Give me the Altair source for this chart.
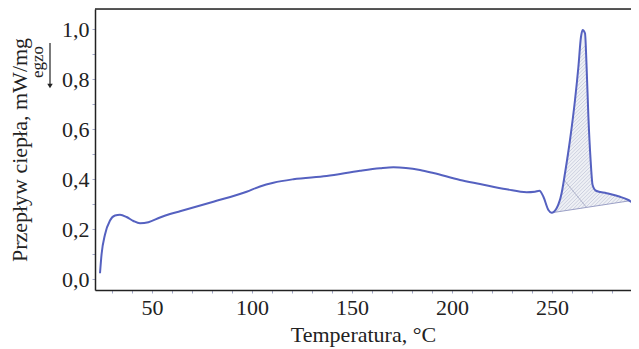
import altair as alt
import numpy as np
import pandas as pd

# DSC curve
temp = [24.0, 24.8, 26.5, 29.0, 31.5, 34.0, 37.3, 40.7, 44.0, 48.2, 54.0, 59.0, 64.0, 80.7,
        97.3, 104.0, 110.7, 120.7, 137.3, 154.0, 164.0, 170.7, 184.0, 190.7, 204.0, 214.0,
        227.3, 237.3, 241.5, 243.7, 245.7, 248.2, 249.8, 252.3, 254.8, 256.5, 259.0, 261.5,
        263.2, 264.5, 265.3, 266.5, 267.3, 268.2, 269.3, 270.3, 272.0, 277.3, 284.0, 288.2,
        291.5, 293.5]
heat = [0.023, 0.100, 0.178, 0.234, 0.254, 0.257, 0.248, 0.232, 0.223, 0.227, 0.246, 0.260,
        0.271, 0.309, 0.349, 0.370, 0.385, 0.399, 0.412, 0.433, 0.443, 0.447, 0.436, 0.424,
        0.396, 0.380, 0.359, 0.347, 0.349, 0.353, 0.329, 0.276, 0.265, 0.283, 0.343, 0.423,
        0.556, 0.716, 0.849, 0.969, 0.996, 0.983, 0.849, 0.649, 0.476, 0.376, 0.353, 0.343,
        0.329, 0.316, 0.300, 0.296]

# integration baseline of the exothermic peak
base_t = [249.8, 289.0]
base_y = [0.265, 0.313]
# divider line inside the peak area
div_t = [256.0, 267.3]
div_y = [0.396, 0.286]

x_ticks = list(range(30, 290, 10))
y_ticks = [round(v * 0.1, 1) for v in range(0, 11)]

X_DOM = [21.5, 289.5]
Y_DOM = [-0.044, 1.08]
W, H = 536, 281

df = pd.DataFrame({"t": temp, "y": heat})

# shaded area between curve and baseline
t_arr = np.array(temp)
h_arr = np.array(heat)
mask = (t_arr >= base_t[0]) & (t_arr <= base_t[1])
area_t = np.concatenate([[base_t[0]], t_arr[mask], [base_t[1]]])
area_y = np.interp(area_t, t_arr, h_arr)
area_y[-1] = base_y[1]
area_b = np.interp(area_t, base_t, base_y)
area_df = pd.DataFrame({"t": area_t, "y": area_y, "b": area_b})

# hatch lines (45 degrees on screen) clipped to the area
px_per_t = W / (X_DOM[1] - X_DOM[0])
px_per_y = H / (Y_DOM[1] - Y_DOM[0])
fine_t = np.linspace(base_t[0], base_t[1], 4000)
fine_top = np.interp(fine_t, t_arr, h_arr)
fine_bot = np.interp(fine_t, base_t, base_y)
segs = []
for c in np.arange(300, 1200, 3.6):
    yl = (fine_t * px_per_t - c) / px_per_y
    inside = (yl >= fine_bot) & (yl <= fine_top)
    idx = np.where(inside)[0]
    if len(idx) == 0:
        continue
    runs = np.split(idx, np.where(np.diff(idx) != 1)[0] + 1)
    for r in runs:
        if len(r) < 2:
            continue
        segs.append({"t": fine_t[r[0]], "y": yl[r[0]], "t2": fine_t[r[-1]], "y2": yl[r[-1]]})
hatch_df = pd.DataFrame(segs)

xs = alt.Scale(domain=X_DOM, nice=False, zero=False)
ys = alt.Scale(domain=Y_DOM, nice=False, zero=False)

FONT = "Liberation Serif"

x_axis = alt.Axis(title="Temperatura, °C", values=x_ticks,
                  labelExpr="datum.value % 50 == 0 ? datum.value : ''",
                  labelOverlap=False,
                  grid=False, domainColor="#222222", domainWidth=1.5,
                  tickColor="#a4aacb", tickSize=3, labelFont=FONT, labelFontSize=22,
                  labelColor="#222222", labelPadding=4, titleFont=FONT, titleFontSize=22,
                  titleFontWeight="normal", titleColor="#222222", titlePadding=6,
                  labelFlush=False)
y_axis = alt.Axis(title="Przepływ ciepła, mW/mg", values=y_ticks,
                  labelExpr="(round(datum.value*10) % 2 == 0) ? replace(format(datum.value, '.1f'), '.', ',') : ''",
                  labelOverlap=False,
                  grid=False, domainColor="#222222", domainWidth=1.5,
                  tickColor="#a4aacb", tickSize=3, labelFont=FONT, labelFontSize=22,
                  labelColor="#222222", labelPadding=3, titleFont=FONT, titleFontSize=22,
                  titleFontWeight="normal", titleColor="#222222", titlePadding=30,
                  labelFlush=False)

X = alt.X("t:Q", scale=xs, axis=x_axis, title="Temperatura, °C")
Y = alt.Y("y:Q", scale=ys, axis=y_axis, title="Przepływ ciepła, mW/mg")

area = alt.Chart(area_df).mark_area(color="#eceef4", opacity=0.9, interpolate="monotone").encode(
    x=X, y=Y, y2="b:Q")

hatch = alt.Chart(hatch_df).mark_rule(color="#b4b8cf", strokeWidth=0.6).encode(
    x=X, y=Y, x2="t2:Q", y2="y2:Q")

base = alt.Chart(pd.DataFrame({"t": base_t, "y": base_y})).mark_line(
    color="#9ba0c6", strokeWidth=1).encode(x=X, y=Y)

div = alt.Chart(pd.DataFrame({"t": div_t, "y": div_y})).mark_line(
    color="#b0b4cc", strokeWidth=1).encode(x=X, y=Y)

line = alt.Chart(df).mark_line(color="#5561c0", strokeWidth=2, interpolate="monotone",
                               clip=True).encode(x=X, y=Y)

top = alt.Chart(pd.DataFrame({"a": [0]})).mark_rule(color="#222222", strokeWidth=1.5).encode(
    x=alt.value(0), x2=alt.value(W), y=alt.value(0))

egzo = alt.Chart(pd.DataFrame({"a": [0]})).mark_text(
    text="egzo", angle=270, font=FONT, fontSize=17, color="#222222",
    align="center", baseline="middle").encode(x=alt.value(-57), y=alt.value(53))

arrow_line = alt.Chart(pd.DataFrame({"a": [0]})).mark_rule(color="#222222", strokeWidth=1.2).encode(
    x=alt.value(-45), y=alt.value(34), y2=alt.value(75))
arrow_head = alt.Chart(pd.DataFrame({"a": [0]})).mark_point(
    shape="triangle-down", filled=True, color="#222222", size=30, opacity=1).encode(
    x=alt.value(-45), y=alt.value(77))

chart = alt.layer(area, hatch, base, div, line, top, egzo, arrow_line, arrow_head).properties(
    width=W, height=H, autosize=alt.AutoSizeParams(type="none"),
    padding={"left": 87, "top": 1, "right": 0, "bottom": 59}
).configure_view(stroke=None).configure_axis(labelOverlap=False).configure(background="white")

chart.save("out.html", embed_options={"renderer": "svg", "actions": False})
